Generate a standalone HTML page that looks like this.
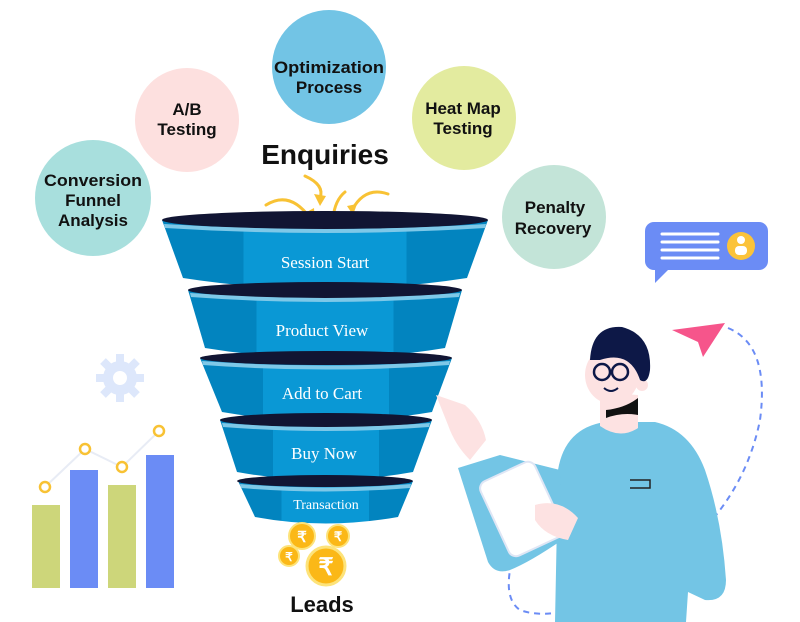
<!DOCTYPE html>
<html><head><meta charset="utf-8"><style>
body{margin:0;background:#fff;width:800px;height:622px;overflow:hidden}
svg{display:block}
.t{font-family:"Liberation Sans",sans-serif;font-weight:bold;fill:#111;text-anchor:middle}
.f{font-family:"Liberation Serif",serif;fill:#fff;text-anchor:middle}
</style></head><body>
<svg width="800" height="622" viewBox="0 0 800 622">
<circle cx="93" cy="198" r="58" fill="#a8dfdd"/>
<circle cx="187" cy="120" r="52" fill="#fde0df"/>
<circle cx="329" cy="67" r="57" fill="#72c4e5"/>
<circle cx="464" cy="118" r="52" fill="#e3eb9f"/>
<circle cx="554" cy="217" r="52" fill="#c3e4d8"/>
<text class="t" font-size="17" x="93" y="186" textLength="98" lengthAdjust="spacingAndGlyphs">Conversion</text>
<text class="t" font-size="17" x="93" y="206">Funnel</text>
<text class="t" font-size="17" x="93" y="226">Analysis</text>
<text class="t" font-size="17" x="187" y="115">A/B</text>
<text class="t" font-size="17" x="187" y="135">Testing</text>
<text class="t" font-size="17" x="329" y="73" textLength="110" lengthAdjust="spacingAndGlyphs">Optimization</text>
<text class="t" font-size="17" x="329" y="93">Process</text>
<text class="t" font-size="17" x="463" y="114">Heat Map</text>
<text class="t" font-size="17" x="463" y="134">Testing</text>
<text class="t" font-size="17" x="555" y="213">Penalty</text>
<text class="t" font-size="17" x="553" y="234">Recovery</text>
<text class="t" font-size="28" x="325" y="164">Enquiries</text>
<g fill="none" stroke="#f8c234" stroke-width="3" stroke-linecap="round">
<path d="M266 205 Q290 190 310 218"/><path d="M305 176 Q325 185 320 198"/>
<path d="M345 192 Q335 200 333 218"/><path d="M388 194 Q365 186 352 210"/>
</g>
<g fill="#f8c234"><path d="M303 214 l12 8 l-1 -14z"/><path d="M314 194 l12 2 l-6 10z"/><path d="M327 214 l12 0 l-6 10z"/><path d="M347 206 l10 -2 l-4 11z"/></g>
<defs>
<linearGradient id="g" x1="0" x2="1"><stop offset="0" stop-color="#0284bf"/><stop offset="0.25" stop-color="#0284bf"/><stop offset="0.25" stop-color="#0a98d5"/><stop offset="0.75" stop-color="#0a98d5"/><stop offset="0.75" stop-color="#0284bf"/><stop offset="1" stop-color="#0284bf"/></linearGradient>
</defs>
<g>
<path d="M162 220 L488 220 L467 278 Q325 300 183 278Z" fill="url(#g)"/>
<ellipse cx="325" cy="220" rx="163" ry="9" fill="#111533"/>
<path d="M164 224 Q325 234 486 224 L485 228 Q325 238 165 228Z" fill="#7ec8e8"/>
<text class="f" font-size="17" x="325" y="268">Session Start</text>
<path d="M188 290 L462 290 L445 348 Q325 368 205 348Z" fill="url(#g)"/>
<ellipse cx="325" cy="290" rx="137" ry="8" fill="#111533"/>
<path d="M190 293 Q325 303 460 293 L459 297 Q325 307 191 297Z" fill="#7ec8e8"/>
<text class="f" font-size="17" x="322" y="336">Product View</text>
<path d="M200 358 L452 358 L432 412 Q325 430 222 412Z" fill="url(#g)"/>
<ellipse cx="326" cy="358" rx="126" ry="7" fill="#111533"/>
<path d="M202 361 Q326 370 450 361 L449 365 Q326 374 203 365Z" fill="#7ec8e8"/>
<text class="f" font-size="17" x="322" y="399">Add to Cart</text>
<path d="M220 420 L432 420 L413 472 Q325 488 237 472Z" fill="url(#g)"/>
<ellipse cx="326" cy="420" rx="106" ry="7" fill="#111533"/>
<path d="M222 423 Q326 431 430 423 L429 427 Q326 435 223 427Z" fill="#7ec8e8"/>
<text class="f" font-size="17" x="324" y="459">Buy Now</text>
<path d="M238 481 L413 481 L398 517 Q325 530 255 517Z" fill="url(#g)"/>
<ellipse cx="325" cy="481" rx="88" ry="6" fill="#111533"/>
<path d="M240 484 Q325 491 411 484 L410 488 Q325 495 241 488Z" fill="#7ec8e8"/>
<text class="f" font-size="14" x="326" y="509">Transaction</text>
</g>
<g font-family="Liberation Sans,sans-serif" font-weight="bold" fill="#fff" text-anchor="middle">
<circle cx="302" cy="536" r="13" fill="#fbb817" stroke="#fde37a" stroke-width="2"/><text x="302" y="542" font-size="15">₹</text>
<circle cx="338" cy="536" r="11" fill="#fbb817" stroke="#fde37a" stroke-width="2"/><text x="338" y="541" font-size="13">₹</text>
<circle cx="289" cy="556" r="10" fill="#fbb817" stroke="#fde37a" stroke-width="2"/><text x="289" y="561" font-size="12">₹</text>
<circle cx="326" cy="566" r="19" fill="#fbb817" stroke="#fde37a" stroke-width="3"/><text x="326" y="575" font-size="24">₹</text>
</g>
<text class="t" font-size="22" x="322" y="612" fill="#222">Leads</text>
<g fill="#dde7fb"><circle cx="120" cy="378" r="17"/>
<g stroke="#dde7fb" stroke-width="8"><line x1="120" y1="354" x2="120" y2="402"/><line x1="96" y1="378" x2="144" y2="378"/><line x1="103" y1="361" x2="137" y2="395"/><line x1="137" y1="361" x2="103" y2="395"/></g>
<circle cx="120" cy="378" r="7" fill="#fff"/></g>
<rect x="32" y="505" width="28" height="83" fill="#cdd67a"/>
<rect x="70" y="470" width="28" height="118" fill="#6b8cf5"/>
<rect x="108" y="485" width="28" height="103" fill="#cdd67a"/>
<rect x="146" y="455" width="28" height="133" fill="#6b8cf5"/>
<polyline points="45,487 85,449 122,467 159,431" fill="none" stroke="#e8ecf5" stroke-width="2"/>
<g fill="#fff" stroke="#f8c234" stroke-width="2.5"><circle cx="45" cy="487" r="5"/><circle cx="85" cy="449" r="5"/><circle cx="122" cy="467" r="5"/><circle cx="159" cy="431" r="5"/></g>
<rect x="645" y="222" width="123" height="48" rx="9" fill="#6b8cf5"/>
<path d="M655 265 L655 283 L670 268Z" fill="#6b8cf5"/>
<g stroke="#fff" stroke-width="3" stroke-linecap="round"><line x1="662" y1="234" x2="718" y2="234"/><line x1="662" y1="242" x2="718" y2="242"/><line x1="662" y1="250" x2="718" y2="250"/><line x1="662" y1="258" x2="718" y2="258"/></g>
<circle cx="741" cy="246" r="14" fill="#fbc33a"/><circle cx="741" cy="240" r="4" fill="#fff"/><rect x="735" y="246" width="12" height="9" rx="4" fill="#fff"/>
<path d="M728 328 Q770 345 760 420 Q740 520 640 580 Q560 625 520 610 Q505 600 510 570" fill="none" stroke="#6b8cf5" stroke-width="2" stroke-dasharray="6,5"/>
<path d="M672 330 L725 323 L703 357 L698 342Z" fill="#f6558b"/>
<!-- person -->
<g>
<path d="M555 622 L558 470 Q565 428 605 422 L655 422 Q690 430 705 470 Q722 520 726 580 Q726 602 705 600 L688 592 L686 622 Z" fill="#73c5e5"/>
<path d="M458 468 L500 455 L560 470 L562 540 Q530 562 510 570 Q495 575 488 562 Z" fill="#73c5e5"/>
<rect x="492" y="468" width="60" height="82" rx="8" transform="rotate(-25 522 509)" fill="#fff" stroke="#dfe6f5" stroke-width="2"/>
<path d="M535 505 Q560 498 578 518 L568 540 Q545 536 535 520Z" fill="#fde2e2"/>
<path d="M436 395 L465 405 Q482 420 486 440 L470 460 Q455 445 448 425Z" fill="#fde2e2"/>
<path d="M600 392 L638 395 L638 428 Q620 440 600 426Z" fill="#fde2e2"/>
<path d="M606 410 Q625 408 638 398 L638 415 Q622 412 606 418Z" fill="#111"/>
<ellipse cx="612" cy="375" rx="27" ry="29" fill="#fde2e2"/>
<circle cx="642" cy="385" r="6" fill="#fde2e2"/>
<path d="M590 360 Q592 325 622 327 Q652 335 650 370 Q648 385 640 380 Q630 350 600 360 Z" fill="#0d1847"/>
<g fill="none" stroke="#0d1847" stroke-width="2.5"><circle cx="602" cy="372" r="8"/><circle cx="620" cy="372" r="8"/></g>
<path d="M604 388 Q611 394 618 388" fill="none" stroke="#0d1847" stroke-width="2"/>
<path d="M630 480 L650 480 L650 488 L630 488" fill="none" stroke="#222" stroke-width="1.5"/>
</g>
</svg>
</body></html>
